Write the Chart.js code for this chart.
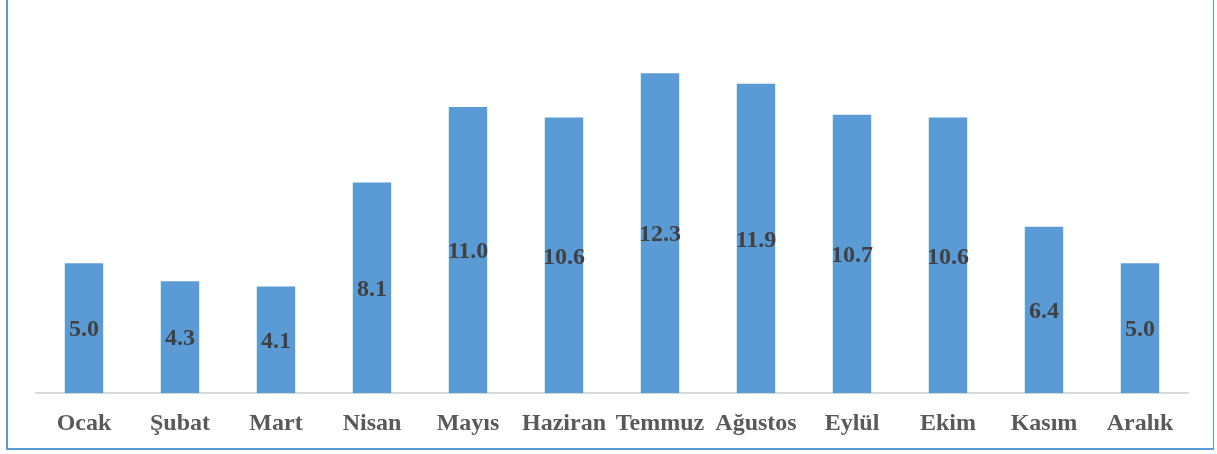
<!DOCTYPE html>
<html>
<head>
<meta charset="utf-8">
<script src="https://cdn.jsdelivr.net/npm/chart.js@4"></script>
<style>
    html, body { margin: 0; padding: 0; background: #fff; }
    .wrap { position: relative; width: 1217px; height: 454px; overflow: hidden; }
    .frame {
        position: absolute; left: 6px; top: -4px; width: 1208px; height: 454px;
        border-left: 2px solid #5B9BD5; border-right: 1px solid #5B9BD5; border-bottom: 2px solid #5B9BD5;
        box-sizing: border-box;
    }
    canvas { position: absolute; left: 0; top: 0; }
</style>
</head>
<body>
<div class="wrap">
    <div class="frame"></div>
    <canvas id="chart" width="1217" height="454"></canvas>
</div>
<script>
// Monthly values
const months = ['Ocak', 'Şubat', 'Mart', 'Nisan', 'Mayıs', 'Haziran', 'Temmuz', 'Ağustos', 'Eylül', 'Ekim', 'Kasım', 'Aralık'];
const values = [5.0, 4.3, 4.1, 8.1, 11.0, 10.6, 12.3, 11.9, 10.7, 10.6, 6.4, 5.0];

// Value labels centred inside each bar
const barLabels = {
    id: 'barLabels',
    afterDatasetsDraw(chart) {
        const ctx = chart.ctx;
        const meta = chart.getDatasetMeta(0);
        ctx.save();
        ctx.font = 'bold 24px "Liberation Serif", "Times New Roman", serif';
        ctx.fillStyle = '#404040';
        ctx.textAlign = 'center';
        ctx.textBaseline = 'middle';
        meta.data.forEach((bar, i) => {
            const y = (bar.y + bar.base) / 2 + 2;
            ctx.fillText(values[i].toFixed(1), bar.x, y);
        });
        ctx.restore();
    }
};

new Chart(document.getElementById('chart').getContext('2d'), {
    type: 'bar',
    data: {
        labels: months,
        datasets: [{
            data: values,
            backgroundColor: '#5B9BD5',
            borderWidth: 0,
            barPercentage: 0.4,
            categoryPercentage: 1.0
        }]
    },
    options: {
        responsive: false,
        animation: false,
        layout: { padding: { left: 36, right: 29, top: 29, bottom: 0 } },
        plugins: {
            legend: { display: false },
            tooltip: { enabled: false }
        },
        scales: {
            x: {
                grid: { display: false, drawTicks: false },
                border: { display: true, color: '#D9D9D9', width: 2 },
                ticks: {
                    color: '#595959',
                    padding: 16,
                    font: { family: '"Liberation Serif", "Times New Roman", serif', size: 24, weight: 'bold' },
                    maxRotation: 0,
                    autoSkip: false
                }
            },
            y: {
                display: false,
                min: 0,
                max: 14
            }
        }
    },
    plugins: [barLabels]
});
</script>
</body>
</html>
